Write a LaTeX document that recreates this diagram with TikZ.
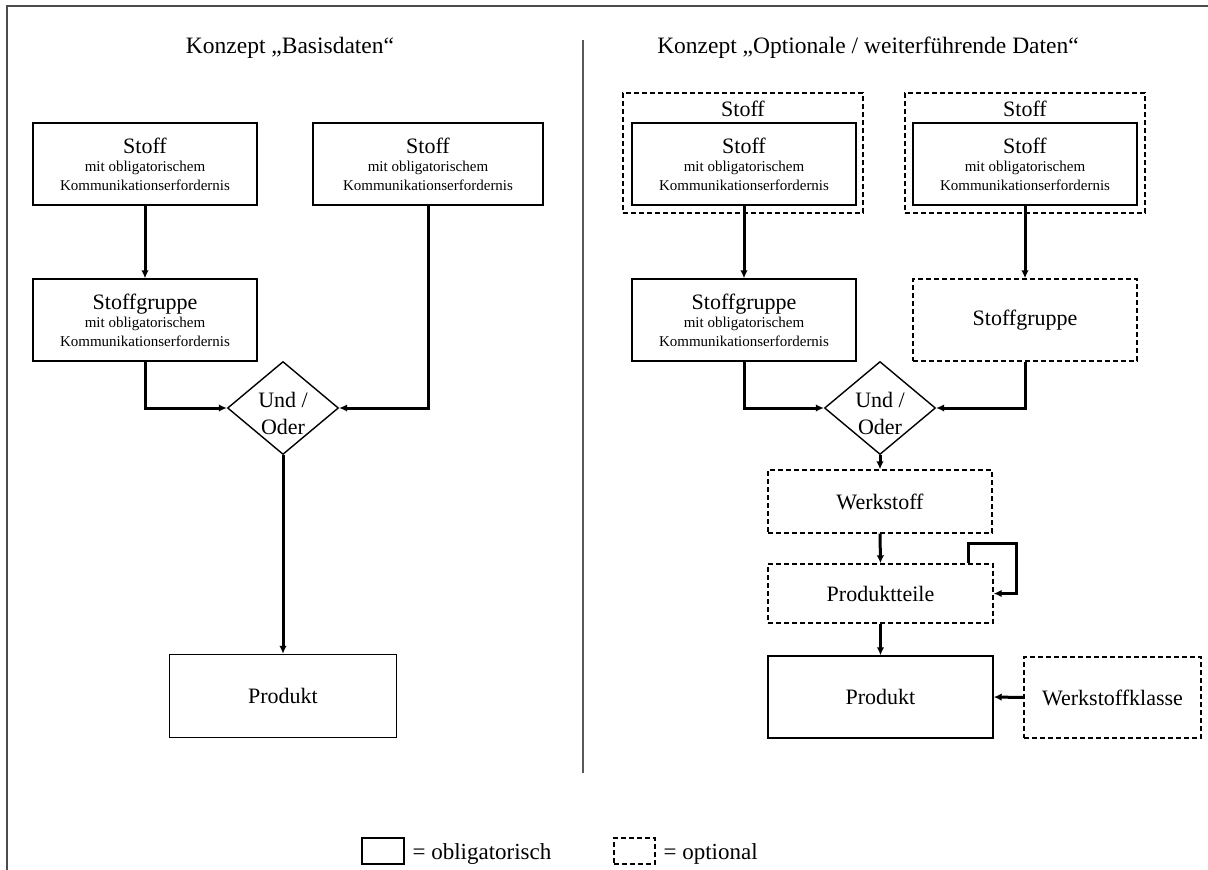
\documentclass[tikz,border=0pt]{standalone}
\usepackage{fontspec}
\setmainfont{Liberation Serif}
\usetikzlibrary{arrows.meta,shapes.geometric,calc}

% small print of the remark lines
\newcommand\remarkfont{\fontsize{15}{18.5}\selectfont}
% text of a box that carries the "obligatory communication" remark
\newcommand\obligtext[1]{#1\\{\remarkfont mit obligatorischem}\\{\remarkfont Kommunikationserfordernis}}

\begin{document}
\begin{tikzpicture}[x=1pt,y=-1pt,
  box/.style={draw, line width=1.4pt, inner sep=0pt, align=center,
              font=\fontsize{22}{18.5}\selectfont},
  optbox/.style={box, dash pattern=on 5pt off 3pt},
  bigbox/.style={box, minimum width=224pt, minimum height=82pt},
  gate/.style={diamond, draw, line width=1.4pt, inner sep=0pt,
               minimum width=111pt, minimum height=93pt},
  gatetext/.style={align=center, font=\fontsize{22}{27}\selectfont},
  title/.style={anchor=base, font=\fontsize{23.5}{28}\selectfont},
  legend/.style={anchor=base west, font=\fontsize{23}{28}\selectfont},
  arr/.style={line width=3pt, -{Latex[length=8pt,width=7.5pt]}},
  frame/.style={draw=black!70, line width=2pt},
  divider/.style={draw=black!65, line width=1.4pt}]

\useasboundingbox (0,0) rectangle (1208,870);

% outer frame and panel divider
\draw[frame] (7,870) -- (7,6) -- (1208,6);
\draw[divider] (583,40) -- (583,773);

% ---------- left panel: basic data ----------
\node[title] (tl) at (290,53) {Konzept „Basisdaten“};

\node[bigbox] (ls1) at (145,164) {\obligtext{Stoff}};
\node[bigbox, minimum width=230pt] (ls2) at (428,164) {\obligtext{Stoff}};
\node[bigbox] (lg) at (145,320) {\obligtext{Stoffgruppe}};
\node[gate] (ld) at (283,408) {};
\node[gatetext] (ldt) at (283,413) {Und /\\Oder};
\node[box, minimum width=227pt, minimum height=83pt] (lp) at (283,696) {Produkt};

\draw[arr] (ls1.south) -- (lg.north);
\draw[arr] (lg.south) |- (ld.west);
\draw[arr] (ls2.south) |- (ld.east);
\draw[arr] (ld.south) -- (lp.north);

% ---------- right panel: optional / further data ----------
\node[title] (tr) at (868,53) {Konzept „Optionale / weiterführende Daten“};

\node[optbox, minimum width=240pt, minimum height=120pt] (ro1) at (743,153) {};
\node[anchor=base, font=\fontsize{22}{26}\selectfont] (ro1t) at (743,116) {Stoff};
\node[bigbox] (rs1) at (744,164) {\obligtext{Stoff}};

\node[optbox, minimum width=240pt, minimum height=120pt] (ro2) at (1025,153) {};
\node[anchor=base, font=\fontsize{22}{26}\selectfont] (ro2t) at (1025,116) {Stoff};
\node[bigbox] (rs2) at (1025,164) {\obligtext{Stoff}};

\node[bigbox] (rg1) at (744,320) {\obligtext{Stoffgruppe}};
\node[optbox, minimum width=224pt, minimum height=82pt] (rg2) at (1025,320) {Stoffgruppe};

\node[gate] (rd) at (880,408) {};
\node[gatetext] (rdt) at (880,413) {Und /\\Oder};

\node[optbox, minimum width=224pt, minimum height=63pt] (rw) at (880,501.5) {Werkstoff};
\node[optbox, minimum width=225pt, minimum height=59pt] (rpt) at (880.5,593.5) {Produktteile};
\node[box, minimum width=225pt, minimum height=82pt] (rp) at (880.5,697) {Produkt};
\node[optbox, minimum width=177pt, minimum height=81pt] (rwk) at (1112.5,697.5) {Werkstoffklasse};

\draw[arr] (rs1.south) -- (rg1.north);
\draw[arr] (rs2.south) -- (rg2.north);
\draw[arr] (rg1.south) |- (rd.west);
\draw[arr] (rg2.south) |- (rd.east);
\draw[arr] (rd.south) -- (rw.north);
\draw[arr] (rw.south) -- (rpt.north);
\draw[arr] (rpt.south) -- (rp.north);
\draw[arr] (rwk.west) -- (rp.east);

% self loop of the product parts
\coordinate (lpa) at (968,543);
\coordinate (lpb) at (1016,543);
\draw[arr] (rpt.north -| lpa) -- (lpa) -- (lpb) |- (rpt.east);

% ---------- legend ----------
\node[box, minimum width=42pt, minimum height=26pt] (lg1) at (383,851) {};
\node[legend] (lg1t) at (409,859) {= obligatorisch};
\node[optbox, minimum width=41pt, minimum height=26pt] (lg2) at (634.5,851) {};
\node[legend] (lg2t) at (660,859) {= optional};

\end{tikzpicture}
\end{document}
